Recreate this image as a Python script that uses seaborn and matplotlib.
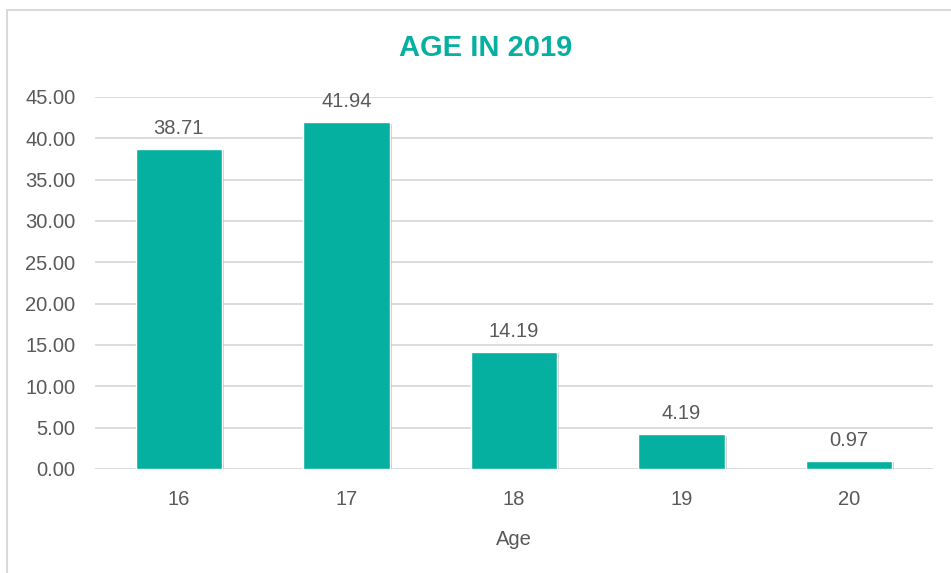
import numpy as np
import pandas as pd
import seaborn as sns
import matplotlib.pyplot as plt
import matplotlib.patheffects as pe
from matplotlib.patches import Rectangle

# data
ages = ['16', '17', '18', '19', '20']
percent = [38.71, 41.94, 14.19, 4.19, 0.97]
yticks = np.arange(0, 46, 5)

teal = '#06b0a0'
text_gray = '#595959'
grid_gray = '#d9d9d9'

sns.set_style('white')
plt.rcParams['font.family'] = ['Liberation Sans', 'DejaVu Sans']

df = pd.DataFrame({'Age': ages, 'value': percent})

fig = plt.figure(figsize=(9.51, 5.73), dpi=100)
ax = fig.add_axes([95 / 951, 1 - 469 / 573, (933 - 95) / 951, (469 - 97) / 573])

sns.barplot(data=df, x='Age', y='value', color=teal, width=0.515, saturation=1, ax=ax, zorder=3)
for bar in ax.patches:
    bar.set_path_effects([pe.SimplePatchShadow(offset=(1.5, -1), shadow_rgbFace='#9a9a9a', alpha=0.5),
                          pe.Normal()])

for bar, v in zip(ax.patches, percent):
    ax.annotate(f'{v:.2f}', (bar.get_x() + bar.get_width() / 2, bar.get_height()),
                xytext=(0, 8), textcoords='offset points', ha='center', va='bottom',
                fontsize=14.5, color=text_gray)

ax.set_ylim(0, 45)
ax.set_yticks(yticks)
ax.set_yticklabels([f'{t:.2f}' for t in yticks])
ax.yaxis.grid(True, color=grid_gray, linewidth=1.3, zorder=0)
ax.set_axisbelow(True)
for s in ax.spines.values():
    s.set_visible(False)
ax.tick_params(axis='both', length=0, labelsize=14.5, labelcolor=text_gray)
ax.tick_params(axis='y', pad=14)
ax.tick_params(axis='x', pad=15)
ax.set_ylabel(None)
ax.set_xlabel('Age', fontsize=14.5, color=text_gray, labelpad=15)

fig.text(486 / 951, 1 - 48 / 573, 'AGE IN 2019', ha='center', va='center',
         fontsize=21, fontweight='bold', color=teal)

# chart border
fig.add_artist(Rectangle((7 / 951, -0.05), 1.0, 1 - 10 / 573 + 0.05, transform=fig.transFigure,
                         fill=False, edgecolor=grid_gray, linewidth=1.5))

fig.savefig('out.png', dpi=100)
